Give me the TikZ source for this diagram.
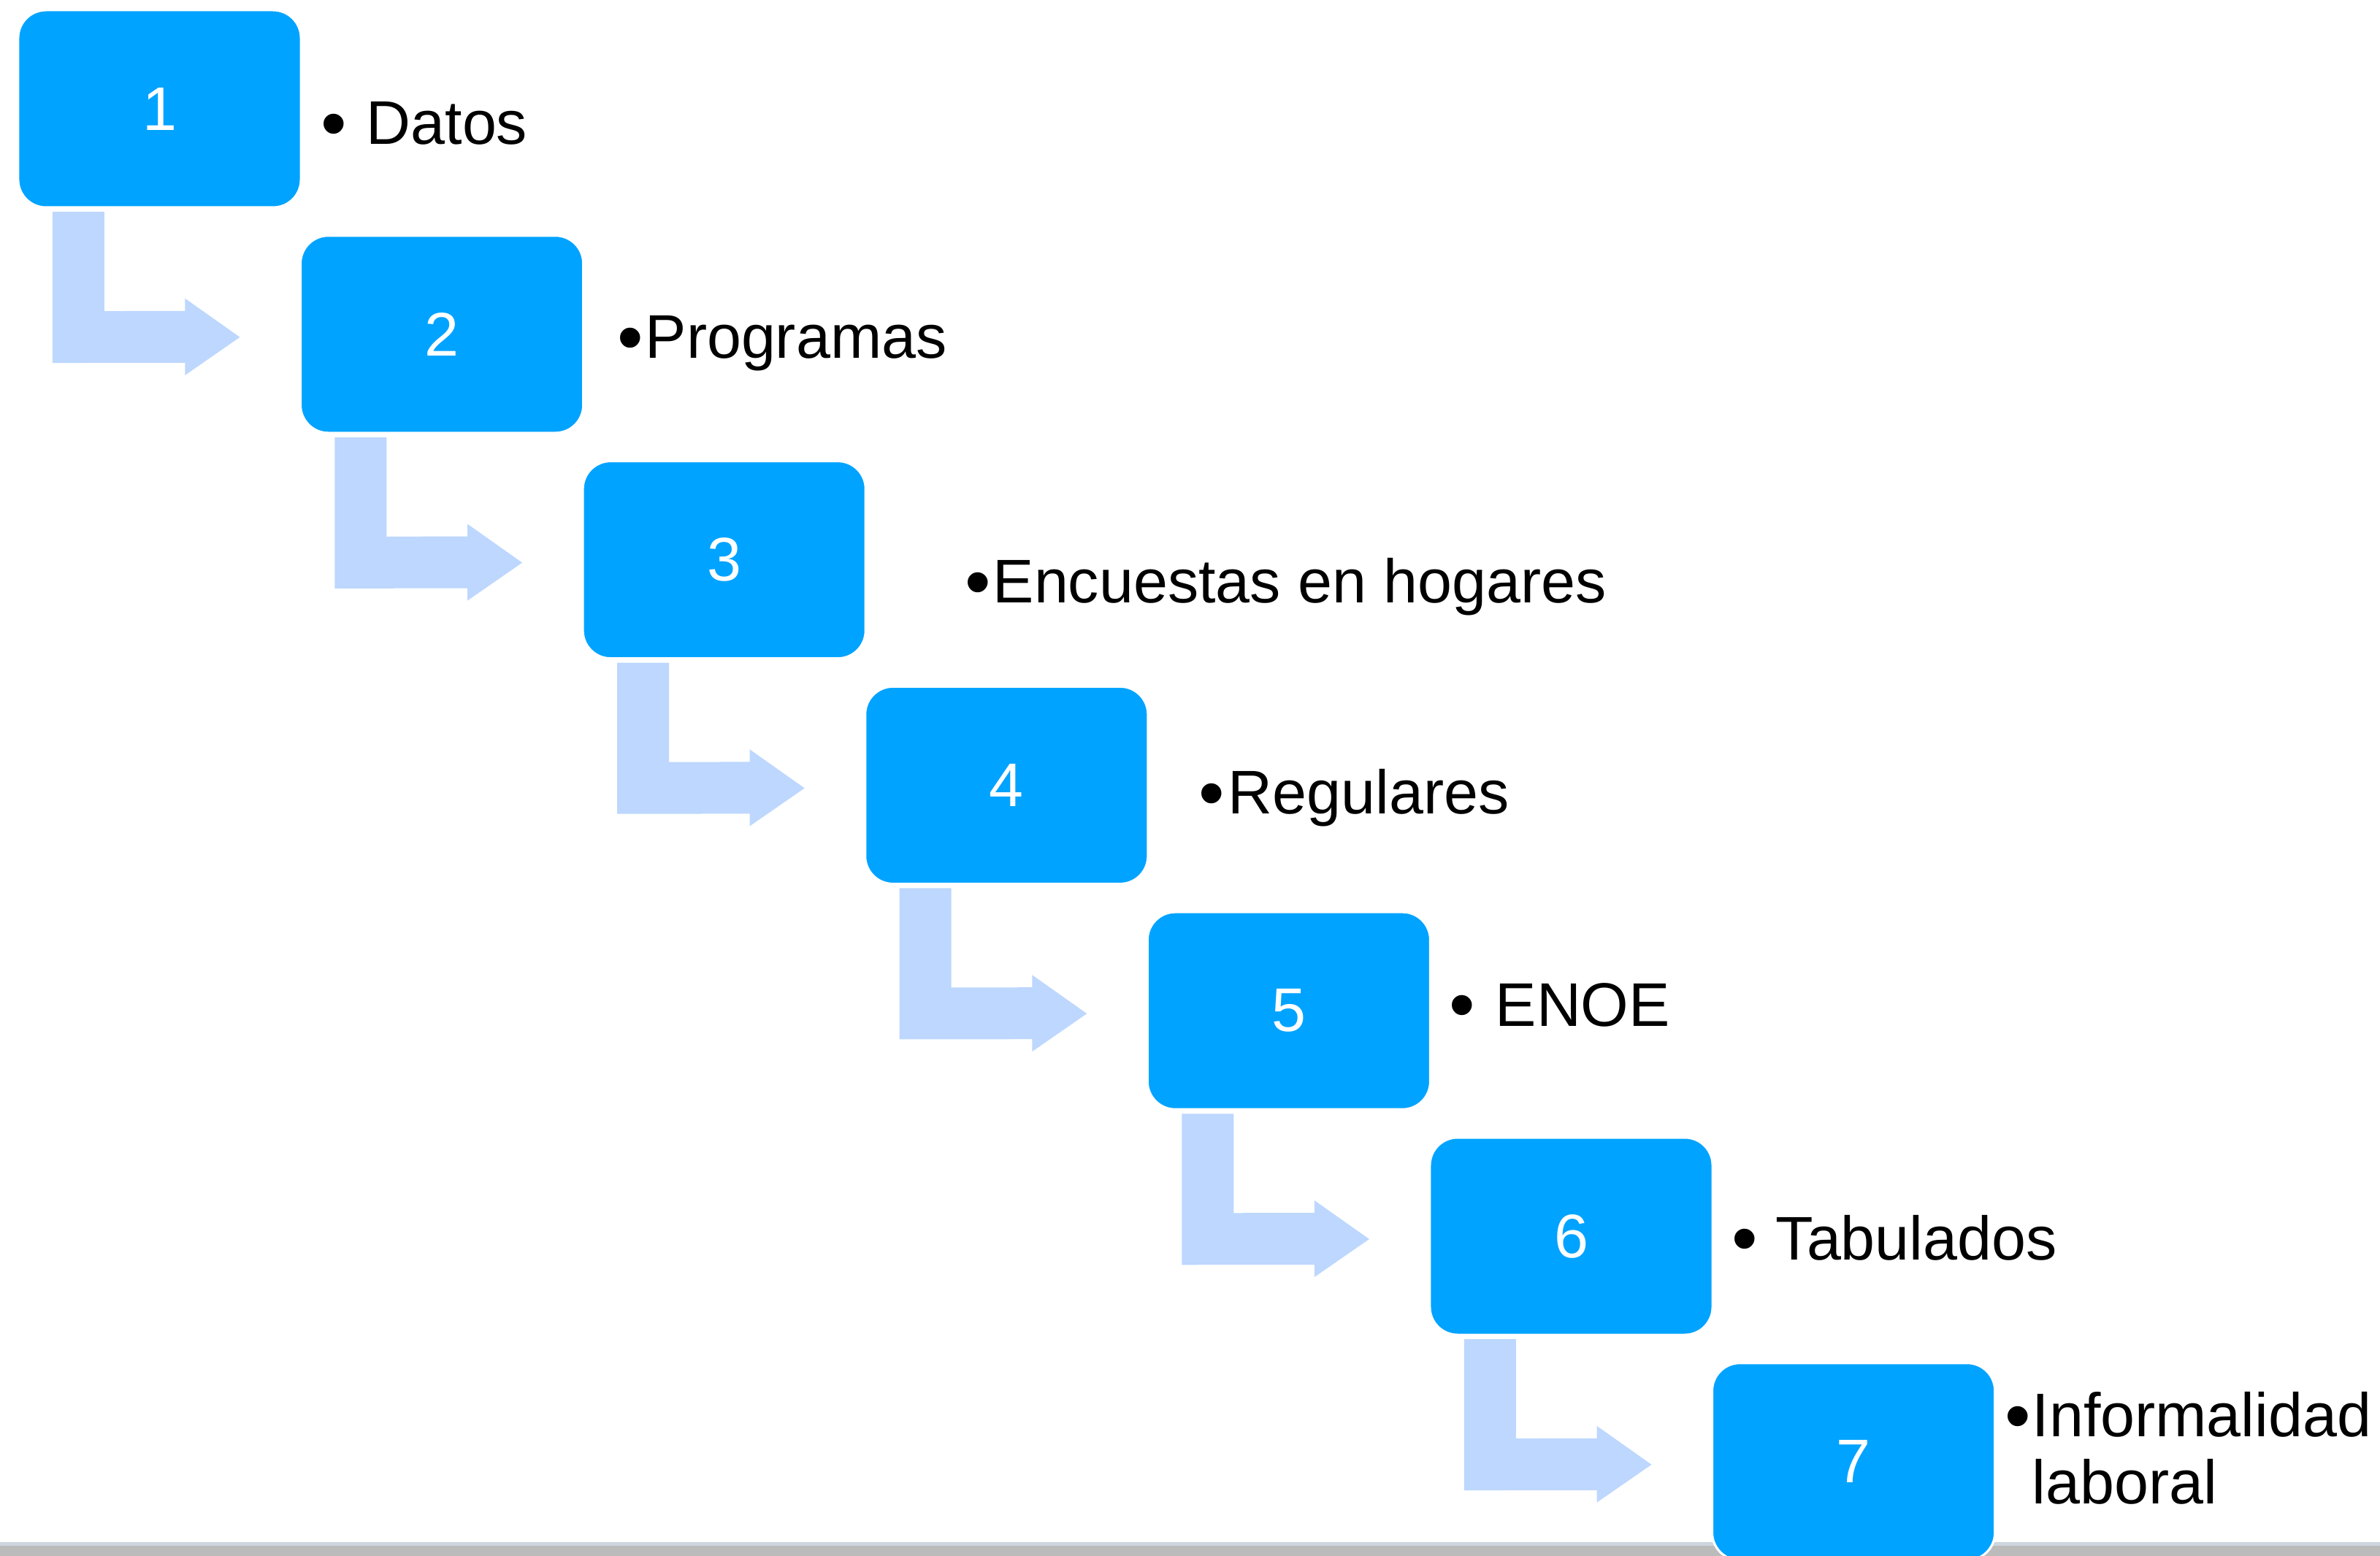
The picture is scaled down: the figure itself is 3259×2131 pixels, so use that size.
\documentclass[tikz,border=0pt]{standalone}
\usepackage{fontspec}
\setmainfont{Liberation Sans}

\definecolor{cajaazul}{RGB}{0,163,255}
\definecolor{flechaazul}{RGB}{189,215,254}
\definecolor{barragris}{RGB}{187,187,187}
\definecolor{lineaclara}{RGB}{205,214,222}

\tikzset{
  paso/.style={shape=rectangle, rounded corners=0.38cm, fill=cajaazul, draw=white,
    line width=0.9pt, minimum width=3.87cm, minimum height=2.7cm, inner sep=0pt,
    outer sep=0pt, text=white, font=\fontsize{24}{26}\selectfont},
  etiqueta/.style={anchor=base west, inner sep=0pt, align=left,
    font=\fontsize{24}{26.1}\selectfont},
  flecha/.style={fill=flechaazul}
}

% bullet in a box of fixed width
\newcommand{\vineta}[1]{\makebox[#1][l]{\raisebox{-0.07em}{\scalebox{1.2}{•}}}}

% bent arrow from one box to the next
\newcommand{\flechaL}[2]{%
  \fill[flecha] ([shift={(47,6)}]#1.south west) -- ([shift={(118,6)}]#1.south west)
    -- ([shift={(118,142)}]#1.south west) -- ([shift={(-158,-32)}]#2.west)
    -- ([shift={(-158,-49)}]#2.west) -- ([shift={(-83,4)}]#2.west)
    -- ([shift={(-158,56)}]#2.west) -- ([shift={(-158,39)}]#2.west)
    -- ([shift={(47,213)}]#1.south west) -- cycle;}

\begin{document}
\begin{tikzpicture}[x=0.01cm, y=-0.01cm]
\useasboundingbox (0,0) rectangle (3259,2131);

% bar at the bottom
\fill[lineaclara] (0,2112) rectangle (3259,2117);
\fill[barragris] (0,2117) rectangle (3259,2131);

\node[paso] (b1) at (218.5,149) {1};
\node[paso] (b2) at (605.1,457.8) {2};
\node[paso] (b3) at (991.7,766.6) {3};
\node[paso] (b4) at (1378.3,1075.4) {4};
\node[paso] (b5) at (1764.9,1384.2) {5};
\node[paso] (b6) at (2151.5,1693) {6};
\node[paso] (b7) at (2538.1,2001.8) {7};

\flechaL{b1}{b2}
\flechaL{b2}{b3}
\flechaL{b3}{b4}
\flechaL{b4}{b5}
\flechaL{b5}{b6}
\flechaL{b6}{b7}

\node[etiqueta] (t1) at (439,198) {\vineta{0.62cm}Datos};
\node[etiqueta] (t2) at (845,491) {\vineta{0.38cm}Programas};
\node[etiqueta] (t3) at (1321,826) {\vineta{0.38cm}Encuestas en hogares};
\node[etiqueta] (t4) at (1641,1115) {\vineta{0.40cm}Regulares};
\node[etiqueta] (t5) at (1984,1405) {\vineta{0.63cm}ENOE};
\node[etiqueta] (t6) at (2371,1725) {\vineta{0.60cm}Tabulados};
\node[etiqueta] (t7) at (2745,2059) {\vineta{0.37cm}Informalidad\\\makebox[0.37cm]{}laboral};
\end{tikzpicture}
\end{document}
